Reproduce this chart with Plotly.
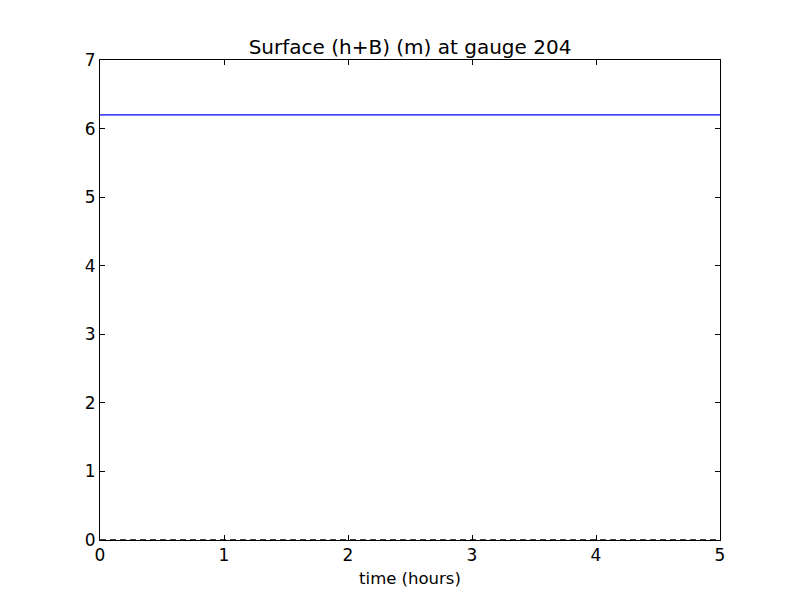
import plotly.graph_objects as go

time_hours = [0.0, 1.0, 2.0, 3.0, 4.0, 5.0]
surface_m = [6.2, 6.2, 6.2, 6.2, 6.2, 6.2]
reference_time = [0.0, 5.0]
reference_level = [0.0, 0.0]

fig = go.Figure()
fig.add_trace(go.Scatter(x=reference_time, y=reference_level, mode="lines",
                         line=dict(color="black", width=1.5, dash="6px,4px"), showlegend=False))
fig.add_trace(go.Scatter(x=time_hours, y=surface_m, mode="lines",
                         line=dict(color="#0000ff", width=1.2), showlegend=False))

axis_common = dict(showgrid=False, zeroline=False, showline=True, linecolor="black", linewidth=1,
                   mirror="ticks", ticks="inside", ticklen=5, tickcolor="black",
                   tickfont=dict(family="DejaVu Sans", size=17, color="black"))

fig.update_layout(
    width=800, height=600,
    margin=dict(l=92, r=88, t=52, b=68),
    paper_bgcolor="white", plot_bgcolor="white",
    title=dict(text="Surface (h+B) (m) at gauge 204", x=(410 - 8) / 800, xanchor="center",
               y=1 - 39/600, yanchor="middle",
               font=dict(family="DejaVu Sans", size=20, color="black")),
    xaxis=dict(range=[0, 5], dtick=1,
               title=dict(text="time (hours)", font=dict(family="DejaVu Sans", size=16.5, color="black"), standoff=8),
               **axis_common),
    yaxis=dict(range=[0, 7], dtick=1, **axis_common),
)

fig.write_html("out.html")
